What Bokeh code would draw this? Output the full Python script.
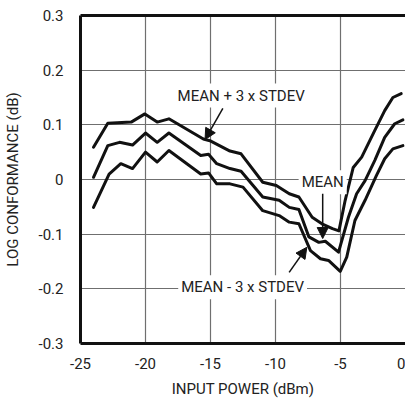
from bokeh.plotting import figure
from bokeh.models import (Range1d, LinearAxis, FixedTicker, CustomJSTickFormatter,
                          Label, Arrow, NormalHead)
from bokeh.embed import file_html
from bokeh.resources import INLINE

# ---- data ----
x_upper = [-24.0, -22.9, -21.1, -20.05, -19.1, -18.2, -15.55, -15.05, -13.5, -12.65,
           -10.98, -9.94, -8.94, -8.2, -7.18, -6.43, -5.62, -5.12, -4.64, -4.02,
           -3.37, -2.36, -1.6, -0.97, -0.33]
y_upper = [0.059, 0.103, 0.105, 0.120, 0.105, 0.111, 0.074, 0.071, 0.052, 0.047,
           -0.005, -0.011, -0.026, -0.032, -0.069, -0.081, -0.090, -0.094, -0.038, 0.022,
           0.041, 0.090, 0.126, 0.150, 0.157]

x_mean = [-24.0, -22.9, -22.0, -21.0, -20.0, -19.1, -18.2, -15.75, -15.15, -14.52,
          -13.5, -12.65, -10.98, -9.72, -8.94, -8.2, -7.43, -6.67, -6.17, -5.15,
          -4.39, -3.76, -3.11, -2.36, -1.6, -0.83, -0.2]
y_mean = [0.004, 0.062, 0.068, 0.063, 0.085, 0.068, 0.085, 0.044, 0.046, 0.029,
          0.020, 0.015, -0.032, -0.038, -0.051, -0.055, -0.105, -0.115, -0.113, -0.133,
          -0.069, -0.026, -0.002, 0.035, 0.077, 0.102, 0.109]

x_lower = [-24.0, -22.8, -21.9, -21.0, -20.0, -19.1, -18.2, -15.75, -15.15, -14.52,
           -13.5, -12.5, -10.98, -9.72, -8.94, -8.2, -7.31, -6.54, -5.92, -5.02,
           -4.52, -3.89, -3.11, -2.24, -1.6, -0.97, -0.2]
y_lower = [-0.051, 0.010, 0.029, 0.020, 0.050, 0.032, 0.053, 0.010, 0.012, -0.008,
           -0.008, -0.014, -0.057, -0.066, -0.078, -0.081, -0.130, -0.145, -0.148, -0.168,
           -0.142, -0.075, -0.038, 0.007, 0.038, 0.056, 0.062]

x_ticks = [-25, -20, -15, -10, -5, 0]
y_ticks = [-0.3, -0.2, -0.1, 0, 0.1, 0.2, 0.3]

x_title = "INPUT POWER (dBm)"
y_title = "LOG CONFORMANCE (dB)"

label_texts = ["MEAN + 3 x STDEV", "MEAN", "MEAN - 3 x STDEV"]
label_x = [-12.64, -6.37, -12.53]
label_y = [0.1536, -0.005, -0.197]

arrow_x0 = [-14.05, -6.37, -8.95]
arrow_y0 = [0.130, -0.026, -0.170]
arrow_x1 = [-15.42, -6.37, -7.59]
arrow_y1 = [0.073, -0.108, -0.124]

FONT = "Roboto"
FS = "15px"

p = figure(width=405, height=403, output_backend="svg", toolbar_location=None,
           x_range=Range1d(-25, 0), y_range=Range1d(-0.3, 0.3),
           min_border_left=79, min_border_right=0, min_border_top=15, min_border_bottom=60)
p.outline_line_color = None
p.background_fill_color = "white"

# axes
for ax in (p.xaxis[0], p.yaxis[0]):
    ax.major_tick_line_color = None
    ax.minor_tick_line_color = None
    ax.major_tick_out = 0
    ax.major_tick_in = 0
    ax.axis_line_width = 3
    ax.axis_line_color = "#111111"
    ax.major_label_text_font = FONT
    ax.major_label_text_font_size = FS
    ax.major_label_text_color = "#222222"
    ax.axis_label_text_font = FONT
    ax.axis_label_text_font_size = FS
    ax.axis_label_text_font_style = "normal"
    ax.axis_label_text_color = "#222222"

p.xaxis.ticker = FixedTicker(ticks=x_ticks)
p.yaxis.ticker = FixedTicker(ticks=y_ticks)
p.xaxis.formatter = CustomJSTickFormatter(code="return tick.toFixed(0);")
p.yaxis.formatter = CustomJSTickFormatter(code="return Math.abs(tick) < 1e-9 ? '0' : tick.toFixed(1);")
p.xaxis.axis_label = x_title
p.yaxis.axis_label = y_title
p.xaxis.major_label_standoff = 14
p.xaxis.axis_label_standoff = 8
p.yaxis.major_label_standoff = 17
p.yaxis.axis_label_standoff = 14

top_axis = LinearAxis(ticker=FixedTicker(ticks=[]), axis_line_width=3, axis_line_color="#111111",
                      major_tick_line_color=None, minor_tick_line_color=None)
p.add_layout(top_axis, "above")

# grid
for g in (p.xgrid[0], p.ygrid[0]):
    g.grid_line_color = "#6f6f6f"
    g.grid_line_width = 1.2
p.xgrid.ticker = FixedTicker(ticks=x_ticks)
p.ygrid.ticker = FixedTicker(ticks=y_ticks)

# curves
for xs, ys in ((x_upper, y_upper), (x_mean, y_mean), (x_lower, y_lower)):
    p.line(xs, ys, line_color="#111111", line_width=3, line_join="round", line_cap="round")

# labels
for t, lx, ly in zip(label_texts, label_x, label_y):
    p.add_layout(Label(x=lx, y=ly, text=t, text_align="center", text_baseline="middle",
                       text_font=FONT, text_font_size=FS, text_color="#222222",
                       background_fill_color="white", padding=3))

# arrows
for x0, y0, x1, y1 in zip(arrow_x0, arrow_y0, arrow_x1, arrow_y1):
    p.add_layout(Arrow(x_start=x0, y_start=y0, x_end=x1, y_end=y1, line_width=1.5,
                       line_color="#111111",
                       end=NormalHead(size=11, fill_color="#111111", line_color="#111111",
                                      line_width=1)))

open("out.html", "w").write(file_html(p, INLINE))
